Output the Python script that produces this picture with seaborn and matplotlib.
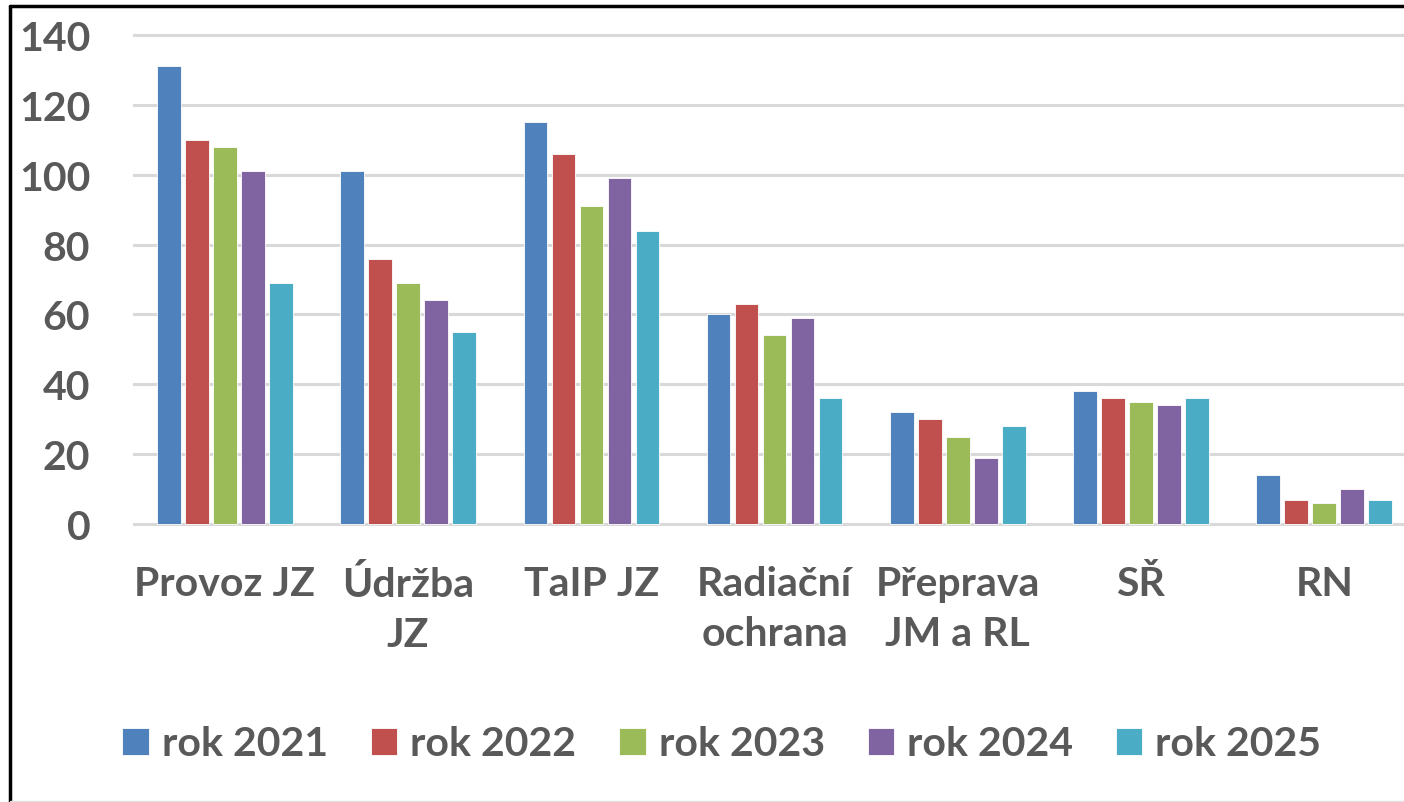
import pandas as pd
import matplotlib
matplotlib.use("Agg")
import matplotlib.pyplot as plt
import seaborn as sns
from matplotlib.lines import Line2D

categories = ["Provoz JZ", "Údržba\nJZ", "TaIP JZ", "Radiační\nochrana",
              "Přeprava\nJM a RL", "SŘ", "RN"]
years = ["rok 2021", "rok 2022", "rok 2023", "rok 2024", "rok 2025"]
rok_2021 = [131, 101, 115, 60, 32, 38, 14]
rok_2022 = [110, 76, 106, 63, 30, 36, 7]
rok_2023 = [108, 69, 91, 54, 25, 35, 6]
rok_2024 = [101, 64, 99, 59, 19, 34, 10]
rok_2025 = [69, 55, 84, 36, 28, 36, 7]
colors = ["#4F81BD", "#C0504D", "#9BBB59", "#8064A2", "#4BACC6"]

series = [rok_2021, rok_2022, rok_2023, rok_2024, rok_2025]
rows = []
for year, vals in zip(years, series):
    for cat, v in zip(categories, vals):
        rows.append({"kategorie": cat, "rok": year, "pocet": v})
df = pd.DataFrame(rows)

sns.set_style("white")
plt.rcParams["font.family"] = ["Lato", "DejaVu Sans"]
plt.rcParams["font.weight"] = "bold"
text_color = "#595959"
fs = 29.5

W, H = 1404, 803
fig = plt.figure(figsize=(W / 100, H / 100), dpi=100)

ppu = 489 / 140
ax_left, ax_right = 133.4, 133.4 + 7 * 183.2
ax_top = 36 - 0.5 * ppu
ax_bottom = 525 + 0.5 * ppu
ax = fig.add_axes([ax_left / W, 1 - ax_bottom / H,
                   (ax_right - ax_left) / W, (ax_bottom - ax_top) / H])

sns.barplot(data=df, x="kategorie", y="pocet", hue="rok", palette=colors,
            saturation=1, width=0.765, gap=0.16, edgecolor="white",
            linewidth=0.6, ax=ax, legend=True, zorder=3)

ax.set_ylim(-0.5, 140.5)
ax.set_xlim(-0.5, 6.5)
ax.set_yticks(range(0, 141, 20))
ax.yaxis.grid(True, color="#D9D9D9", linewidth=2.2, zorder=0)
ax.set_axisbelow(True)
for s in ax.spines.values():
    s.set_visible(False)
ax.tick_params(axis="both", length=0, labelsize=fs, labelcolor=text_color)
ax.tick_params(axis="y", pad=31)
ax.tick_params(axis="x", pad=28)
for lbl in ax.get_xticklabels():
    lbl.set_linespacing(1.43)
    lbl.set_fontweight("bold")
for lbl in ax.get_yticklabels():
    lbl.set_fontweight("bold")
ax.set_xlabel("")
ax.set_ylabel("")

handles, labels = ax.get_legend_handles_labels()
ax.get_legend().remove()
fig.legend(handles, labels, ncol=5, loc="center",
           bbox_to_anchor=(722 / W, 1 - 745 / H), frameon=False,
           prop={"size": fs, "weight": "bold"}, labelcolor=text_color,
           handlelength=0.64, handleheight=0.64, handletextpad=0.32,
           columnspacing=1.05)

# frame of the screenshot
fig.add_artist(Line2D([10 / W, 1], [1 - 7 / H, 1 - 7 / H], color="black",
                      linewidth=2.5, transform=fig.transFigure))
fig.add_artist(Line2D([10 / W, 10 / W], [0, 1 - 7 / H], color="black",
                      linewidth=2.5, transform=fig.transFigure))
fig.add_artist(Line2D([10 / W, 1], [1.5 / H, 1.5 / H], color="#E0E0E0",
                      linewidth=1, transform=fig.transFigure))

fig.savefig("out.png", dpi=100)
